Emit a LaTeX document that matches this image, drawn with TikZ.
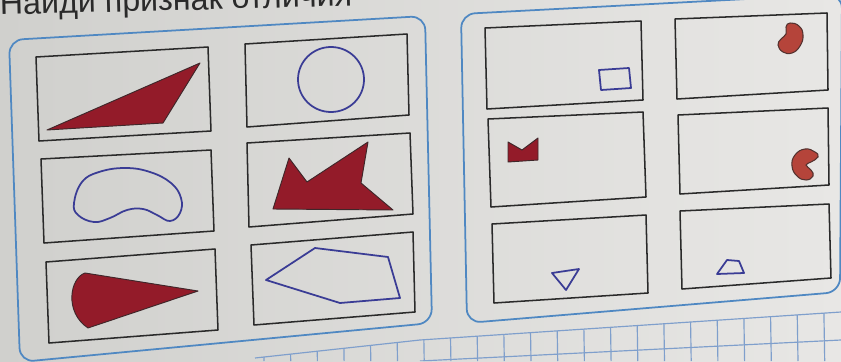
\documentclass[tikz,border=0pt]{standalone}
\usepackage{fontspec}
\newfontfamily\titlefont{Liberation Sans}
\definecolor{Ink}{HTML}{2A2A2A}
\definecolor{Crimson}{HTML}{931B29}
\definecolor{Bean}{HTML}{B5443A}
\definecolor{Navy}{HTML}{3A3C95}
\definecolor{Frame}{HTML}{4F88C2}
\definecolor{GridBlue}{HTML}{7F9FCC}
\definecolor{PaperDark}{HTML}{D0D0CD}
\definecolor{PaperLight}{HTML}{E8E7E5}
\tikzset{
    card/.style={draw=Ink, line width=1.3pt, line join=round},
    panel/.style={draw=Frame, line width=1.5pt, rounded corners=12pt},
    redshape/.style={fill=Crimson, draw=Ink!80!Crimson, line width=0.8pt, line join=round},
    beanshape/.style={fill=Bean, draw=Ink!70!Bean, line width=0.9pt},
    blueshape/.style={draw=Navy, line width=1.5pt, line join=round},
    gridline/.style={draw=GridBlue, line width=1pt},
}

\begin{document}
\begin{tikzpicture}[x=0.03cm, y=-0.03cm]
    \useasboundingbox (0,0) rectangle (841,361);
    % Фон страницы
    \shade[left color=PaperDark, right color=PaperLight] (0,0) rectangle (841,361);

    % Клетки внизу
    \begin{scope}
        \clip (255,358) -- (420,340) -- (841,312) -- (841,361) -- (255,361) -- cycle;
        \foreach \k in {0,...,21}
            \draw[gridline] ({263+26.7*\k},300) -- ({264+26.7*\k},361);
        \draw[gridline] (420,361) -- (841,340);
    \end{scope}
    \draw[gridline] (255,358) -- (420,340) -- (841,312);

    % Рамки
    \draw[panel] (9,40) -- (425,16) -- (432,323) -- (20,362) -- cycle;
    \draw[panel] (461,14) -- (842,-6) -- (840,292) -- (467,323) -- cycle;

    % Карточки слева
    \draw[card] (36,57) -- (208,47) -- (211,131) -- (39,141) -- cycle;
    \draw[card] (245,44) -- (407,34) -- (409,115) -- (247,127) -- cycle;
    \draw[card] (41,159) -- (211,150) -- (214,231) -- (44,243) -- cycle;
    \draw[card] (247,143) -- (410,133) -- (413,214) -- (249,227) -- cycle;
    \draw[card] (46,262) -- (215,249) -- (218,330) -- (49,343) -- cycle;
    \draw[card] (251,245) -- (413,232) -- (415,312) -- (254,325) -- cycle;

    % Карточки справа
    \draw[card] (485,28) -- (641,21) -- (643,100) -- (487,109) -- cycle;
    \draw[card] (675,19) -- (827,13) -- (828,90) -- (677,99) -- cycle;
    \draw[card] (488,119) -- (643,112) -- (646,197) -- (491,207) -- cycle;
    \draw[card] (678,115) -- (828,108) -- (829,185) -- (680,194) -- cycle;
    \draw[card] (492,224) -- (646,215) -- (648,293) -- (494,303) -- cycle;
    \draw[card] (680,211) -- (829,204) -- (831,278) -- (682,289) -- cycle;

    % Большие фигуры
    \draw[redshape] (47,130) -- (200,63) -- (163,123) -- cycle;
    \draw[blueshape] (331,79.5) ellipse [x radius=33, y radius=32.5];
    \draw[blueshape] plot[smooth cycle, tension=0.7] coordinates {(74,203) (82,182) (99,172) (125,168) (150,172) (171,183) (181,198) (180,213) (170,221) (157,215) (143,209) (127,210) (110,218) (94,222) (78,215)};
    \draw[redshape] (273,209) -- (289,158) -- (307,182) -- (368,142) -- (361,183) -- (393,210) -- cycle;
    \draw[redshape] (85,273) .. controls (70,278) and (64,312) .. (88,328) -- (198,291) -- cycle;
    \draw[blueshape] (266,280) -- (315,248) -- (388,257) -- (400,298) -- (340,303) -- cycle;

    % Маленькие фигуры
    \draw[blueshape] (599,70) -- (629,68) -- (631,88) -- (601,90) -- cycle;
    \draw[beanshape] plot[smooth cycle, tension=0.8] coordinates {(790,23) (799,26) (803,35) (800,46) (792,53) (783,52) (778,45) (781,39) (786,34) (786,27)};
    \draw[redshape] (508,162) -- (508,142) -- (522,150) -- (538,138) -- (538,160) -- cycle;
    \draw[beanshape] plot[smooth cycle, tension=0.8] coordinates {(805,149) (815,152) (818,157) (811,162) (806,165) (811,170) (813,176) (806,180) (797,176) (792,166) (795,155)};
    \draw[blueshape] (552,273) -- (579,269) -- (566,290) -- cycle;
    \draw[blueshape] (717,274) -- (744,273) -- (739,261) -- (727,260) -- cycle;

    % Задание
    \node[anchor=base west, inner sep=0pt, text=Ink, rotate=1.5,
          font=\titlefont\fontsize{27.5}{32}\selectfont] (task) at (0,15) {Найди признак отличия};
\end{tikzpicture}
\end{document}
